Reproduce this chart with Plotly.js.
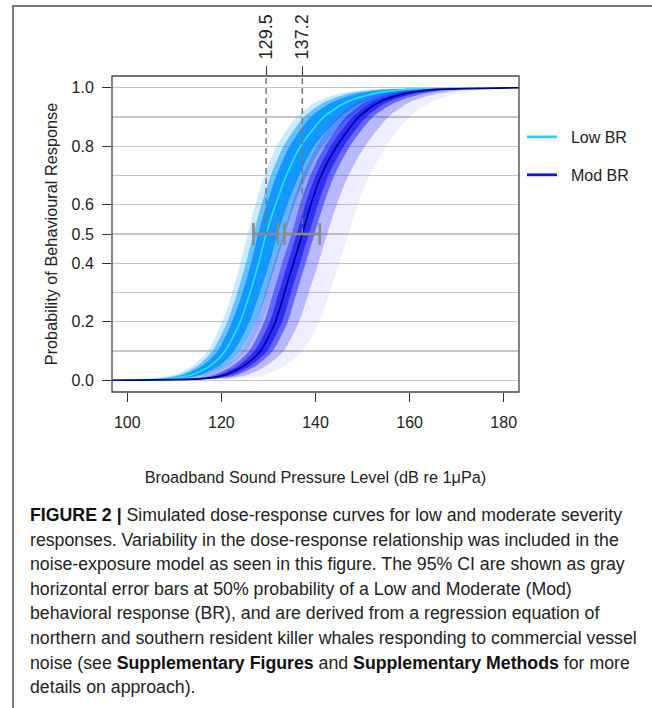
<!DOCTYPE html>
<html><head><meta charset="utf-8">
<script src="https://cdn.plot.ly/plotly-3.0.1.min.js"></script>
<style>
html,body{margin:0;padding:0;background:#fff;}
#wrap{position:relative;width:652px;height:708px;overflow:hidden;background:#fff;}
#chart{position:absolute;left:0;top:0;width:652px;height:708px;}
#frame{position:absolute;left:12px;top:5px;right:-5px;bottom:-5px;border-left:2px solid #7a7a7a;border-top:2px solid #7a7a7a;pointer-events:none;}
#cap{position:absolute;left:29.5px;top:503px;font-family:'Liberation Sans',Arial,sans-serif;font-size:17.5px;line-height:24.6px;color:#222;white-space:nowrap;transform-origin:0 0;}
#cap b{font-weight:bold;color:#111;}
</style></head><body>
<div id="wrap">
<div id="chart"></div>
<div id="frame"></div>
<div id="cap">
<div><span id="cap1"><b>FIGURE 2 |</b> Simulated dose-response curves for low and moderate severity</span></div>
<div>responses. Variability in the dose-response relationship was included in the</div>
<div>noise-exposure model as seen in this figure. The 95% CI are shown as gray</div>
<div>horizontal error bars at 50% probability of a Low and Moderate (Mod)</div>
<div>behavioral response (BR), and are derived from a regression equation of</div>
<div>northern and southern resident killer whales responding to commercial vessel</div>
<div>noise (see <b>Supplementary Figures</b> and <b>Supplementary Methods</b> for more</div>
<div>details on approach).</div>
</div>
</div>
<script>
// ---- data ----
// probability levels at which the curves' x positions were read
const levels = [0, 0.005, 0.01, 0.02, 0.05, 0.1, 0.2, 0.3, 0.4, 0.5, 0.6, 0.7, 0.8, 0.9, 0.95, 0.98, 0.99, 0.995, 1];
// Low BR: mean curve and simulated-curve envelopes (dB)
const lowMean   = [96.75, 108.5, 111.1, 113.9, 117.7, 120.8, 124.0, 126.1, 127.9, 129.5, 131.5, 133.8, 136.8, 141.8, 146.5, 152.5, 157, 161, 183.25];
const lowCoreL  = [96.75, 107.0, 109.5, 112.3, 116.0, 119.2, 122.3, 124.5, 126.3, 127.8, 129.6, 131.7, 134.5, 139.0, 143.5, 149, 153, 157, 183.25];
const lowCoreR  = [96.75, 110.5, 113.0, 115.8, 119.6, 122.7, 126.0, 128.2, 130.2, 132.0, 134.0, 136.5, 139.7, 145.3, 150.0, 156.5, 161, 165, 183.25];
const lowMidL   = [96.75, 106.0, 108.5, 111.3, 115.0, 118.1, 121.3, 123.4, 125.2, 126.8, 128.5, 130.5, 133.2, 137.6, 141.8, 147, 151, 155, 183.25];
const lowMidR   = [96.75, 111.5, 114.0, 116.9, 120.8, 124.0, 127.4, 129.6, 131.6, 133.5, 135.5, 138.1, 141.5, 147.3, 152.3, 159, 163, 167, 183.25];
const lowOuterL = [96.75, 105.0, 107.5, 110.3, 114.0, 117.1, 120.2, 122.3, 124.0, 125.6, 127.2, 129.2, 131.7, 136.0, 140.0, 145, 149, 153, 183.25];
const lowOuterR = [96.75, 112.5, 115.0, 118.0, 121.8, 125.2, 128.6, 130.8, 132.9, 134.8, 136.9, 139.6, 143.1, 149.0, 154.0, 161, 165, 169, 183.25];
// Mod BR
const modMean   = [96.75, 115.5, 118.5, 121.0, 124.8, 128.3, 131.5, 133.4, 135.3, 137.2, 139.0, 141.2, 144.5, 149.2, 153.5, 159, 163, 167, 183.25];
const modInL    = [96.75, 114.5, 117.3, 119.8, 123.6, 127.0, 130.3, 132.2, 134.1, 136.0, 137.8, 140.0, 143.2, 147.9, 152.0, 157.5, 161.5, 165.5, 183.25];
const modInR    = [96.75, 116.8, 119.8, 122.4, 126.2, 129.7, 132.9, 134.8, 136.7, 138.6, 140.5, 142.7, 146.0, 150.8, 155.2, 161, 165, 169, 183.25];
const modCoreL  = [96.75, 113.0, 116.0, 118.6, 122.4, 125.9, 129.1, 131.0, 132.9, 134.9, 136.7, 138.9, 142.0, 146.5, 150.5, 156, 160, 164, 183.25];
const modCoreR  = [96.75, 118.0, 121.0, 123.6, 127.4, 130.9, 134.1, 136.0, 137.9, 139.8, 141.7, 144.0, 147.3, 152.2, 157.0, 163, 167, 171, 183.25];
const modMidL   = [96.75, 111.5, 114.5, 117.0, 120.8, 124.2, 127.4, 129.3, 131.2, 133.2, 135.0, 137.2, 140.3, 144.8, 148.8, 154, 158, 162, 183.25];
const modMidR   = [96.75, 120.0, 123.0, 125.8, 129.6, 133.2, 136.5, 138.6, 140.6, 142.5, 144.5, 147.0, 150.5, 155.5, 160.0, 166, 170, 174, 183.25];
const modOuterL = [96.75, 110.5, 113.5, 116.0, 119.8, 123.2, 126.4, 128.3, 130.2, 132.2, 134.0, 136.2, 139.3, 143.8, 147.8, 153, 157, 161, 183.25];
const modOuterR = [96.75, 123.0, 126.5, 129.5, 133.5, 137.2, 140.8, 143.0, 145.0, 147.0, 149.0, 151.5, 155.0, 160.0, 164.5, 170, 174, 177, 183.25];
// 50% points and their 95% CI
const groups     = ['Low BR', 'Mod BR'];
const centers    = [129.5, 137.2];
const centerTxt  = ['129.5', '137.2'];
const ciLow      = [126.8, 133.4];
const ciHigh     = [132.0, 140.9];
const halfProb   = 0.5;
// axes
const xRange = [96.75, 183.25];
const yRange = [-0.04, 1.04];
const xTicks = [100, 120, 140, 160, 180];
const yTicks = [0, 0.2, 0.4, 0.5, 0.6, 0.8, 1.0];
const yTickText = ['0.0', '0.2', '0.4', '0.5', '0.6', '0.8', '1.0'];

// ---- traces ----
function band(L, R, color) {
  return {x: L.concat(R.slice().reverse()), y: levels.concat(levels.slice().reverse()),
    mode: 'lines', fill: 'toself', fillcolor: color,
    line: {width: 0, shape: 'spline', smoothing: 0.7}, hoverinfo: 'skip', showlegend: false};
}
function meanLine(X, color) {
  return {x: X, y: levels, mode: 'lines', line: {color: color, width: 1.6, shape: 'spline', smoothing: 0.7},
    hoverinfo: 'skip', showlegend: false};
}
const traces = [
  band(lowOuterL, lowOuterR, 'rgba(60,180,255,0.28)'),
  band(lowMidL, lowMidR, 'rgba(20,160,255,0.55)'),
  band(lowCoreL, lowCoreR, 'rgba(0,140,255,0.80)'),
  meanLine(lowMean, '#1FE6FF'),
  band(modOuterL, modOuterR, 'rgba(90,90,255,0.10)'),
  band(modMidL, modMidR, 'rgba(60,60,255,0.30)'),
  band(modCoreL, modCoreR, 'rgba(20,20,255,0.50)'),
  band(modInL, modInR, 'rgba(0,0,240,0.55)'),
  meanLine(modMean, '#00008C')
];
// CI error bars at 50 %
for (let i = 0; i < groups.length; i++) {
  traces.push({x: [centers[i]], y: [halfProb], xaxis: 'x2', mode: 'markers',
    marker: {size: 1, color: 'rgba(0,0,0,0)'},
    error_x: {type: 'data', symmetric: false, array: [ciHigh[i] - centers[i]], arrayminus: [centers[i] - ciLow[i]],
      color: '#8a8a8a', thickness: 2.6, width: 11},
    hoverinfo: 'skip', showlegend: false});
}
// legend entries
traces.push({x: [null], y: [null], mode: 'lines', name: '\u00a0\u00a0' + groups[0], line: {color: '#2ECBFF', width: 2.8}, legend: 'legend'});
traces.push({x: [null], y: [null], mode: 'lines', name: '\u00a0\u00a0' + groups[1], line: {color: '#1414E0', width: 2.8}, legend: 'legend2'});

const shapes = centers.map(c => ({type: 'line', xref: 'x', yref: 'y', x0: c, x1: c, y0: halfProb, y1: yRange[1],
  line: {color: '#777', width: 1.5, dash: '6px,4px'}}));
shapes.push({type: 'rect', xref: 'paper', yref: 'paper', x0: 0, x1: 1, y0: 0, y1: 1, line: {color: '#444', width: 1.3}});

const fnt = 'Liberation Sans, Arial, sans-serif';
const layout = {
  width: 652, height: 708,
  margin: {l: 112, r: 133, t: 76, b: 316, pad: 0},
  paper_bgcolor: 'rgba(0,0,0,0)', plot_bgcolor: '#fff',
  font: {family: fnt, size: 16, color: '#222'},
  xaxis: {range: xRange, tickvals: xTicks, ticks: 'outside', ticklen: 9, tickwidth: 1, tickcolor: '#333',
    showgrid: false, zeroline: false, showline: false, ticklabelstandoff: 7,
    title: {text: 'Broadband Sound Pressure Level (dB re 1\u03bcPa)', font: {size: 16.3, color: '#222'}, standoff: 41}},
  xaxis2: {range: xRange, overlaying: 'x', side: 'top', tickvals: centers, ticktext: centerTxt, tickangle: -90,
    tickfont: {size: 18, color: '#222'},
    ticks: 'outside', ticklen: 9, tickwidth: 1, tickcolor: '#333', showgrid: false, zeroline: false, showline: false,
    ticklabelstandoff: 3},
  yaxis: {range: yRange, tickvals: yTicks, ticktext: yTickText, ticks: 'outside', ticklen: 9, tickwidth: 1, tickcolor: '#333',
    showgrid: true, gridcolor: '#c6c6c6', gridwidth: 1.3, zeroline: false, showline: false, ticklabelstandoff: 5,
    minor: {tickmode: 'linear', tick0: 0, dtick: 0.1, showgrid: true, gridcolor: '#c6c6c6', gridwidth: 1.3, ticks: ''},
    title: {text: 'Probability of Behavioural Response', font: {size: 16.3, color: '#222'}, standoff: 9}},
  showlegend: true,
  legend: {x: 1.0074, xanchor: 'left', y: 0.807, yanchor: 'middle', bgcolor: 'rgba(0,0,0,0)', font: {size: 16, color: '#222'}, itemwidth: 30},
  legend2: {x: 1.0074, xanchor: 'left', y: 0.687, yanchor: 'middle', bgcolor: 'rgba(0,0,0,0)', font: {size: 16, color: '#222'}, itemwidth: 30},
  shapes: shapes
};
Plotly.newPlot('chart', traces, layout, {displayModeBar: false, staticPlot: true});

// fit caption width to reference line length
const cap = document.getElementById('cap');
const w1 = document.getElementById('cap1').getBoundingClientRect().width;
const target = 592;
cap.style.transform = 'scaleX(' + (target / w1) + ')';
</script>
</body></html>
